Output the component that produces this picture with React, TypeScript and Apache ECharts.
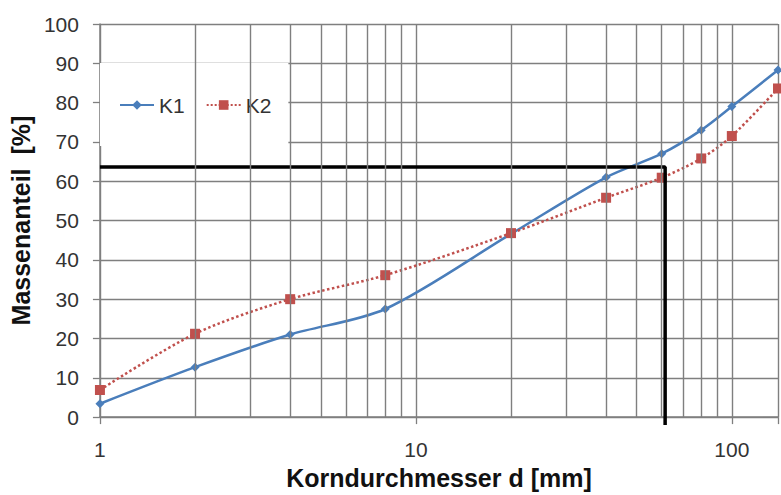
import React, { useEffect, useRef } from "react";
import * as echarts from "echarts";

const diameters = [1, 2, 4, 8, 20, 40, 60, 80, 100, 140];
const k1Values = [3.4, 12.7, 21, 27.5, 46.6, 61, 67, 73, 79, 88.3];
const k2Values = [6.9, 21.2, 30, 36.1, 46.8, 55.8, 60.9, 65.8, 71.5, 83.6];
const minorGrid = [2, 3, 4, 5, 6, 7, 8, 9, 20, 30, 40, 50, 60, 70, 80, 90];
const readD = 61.5;
const readPct = 63.6;
const seriesNames = ["K1", "K2"];

const FONT = "'Liberation Sans', Arial, sans-serif";
const GRID = "#7f7f7f";

export default function App() {
  const ref = useRef<HTMLDivElement>(null);
  useEffect(() => {
    if (!ref.current) return;
    const chart = echarts.init(ref.current, null, { renderer: "svg" });
    const k1 = diameters.map((d, i) => [d, k1Values[i]]);
    const k2 = diameters.map((d, i) => [d, k2Values[i]]);
    chart.setOption({
      animation: false,
      textStyle: { fontFamily: FONT },
      grid: { left: 98, right: 0, top: 24, bottom: 74, containLabel: false },
      legend: {
        data: seriesNames,
        left: 100,
        top: 63,
        backgroundColor: "#fff",
        padding: [31, 17, 30, 19],
        itemWidth: 34,
        itemHeight: 12,
        itemGap: 21,
        textStyle: { fontFamily: FONT, fontSize: 21, color: "#333", lineHeight: 22 },
      },
      xAxis: {
        type: "log",
        logBase: 10,
        min: 1,
        max: 140,
        name: "Korndurchmesser d [mm]",
        nameLocation: "middle",
        nameGap: 46,
        nameTextStyle: { fontFamily: FONT, fontSize: 25, fontWeight: "bold", color: "#111" },
        axisLine: { show: true, lineStyle: { color: GRID, width: 1.5 } },
        axisTick: { show: true, length: 7, lineStyle: { color: GRID, width: 1.3 } },
        axisLabel: {
          fontFamily: FONT,
          fontSize: 21,
          color: "#333",
          margin: 22,
          formatter: (v: number) => {
            const l = Math.log10(v);
            return Math.abs(l - Math.round(l)) < 1e-6 ? String(Math.round(v)) : "";
          },
        },
        splitLine: { show: true, lineStyle: { color: GRID, width: 1.4 } },
      },
      yAxis: {
        type: "value",
        min: 0,
        max: 100,
        interval: 10,
        name: "Massenanteil  [%]",
        nameLocation: "middle",
        nameGap: 58,
        nameTextStyle: { fontFamily: FONT, fontSize: 25, fontWeight: "bold", color: "#111" },
        axisLine: { show: true, lineStyle: { color: GRID, width: 1.5 } },
        axisTick: { show: true, length: 7, lineStyle: { color: GRID, width: 1.3 } },
        axisLabel: { fontFamily: FONT, fontSize: 21, color: "#333", margin: 21 },
        splitLine: { show: true, lineStyle: { color: GRID, width: 1.4 } },
      },
      series: [
        {
          name: "grid",
          type: "line",
          data: [],
          z: 1,
          silent: true,
          markLine: {
            silent: true,
            symbol: "none",
            label: { show: false },
            lineStyle: { color: GRID, width: 1.4, type: "solid" },
            data: minorGrid.map((v) => ({ xAxis: v })),
          },
        },
        {
          name: "K1",
          type: "line",
          data: k1,
          smooth: 0.3,
          symbol: "diamond",
          symbolSize: 9,
          color: "#4a7ebb",
          lineStyle: { color: "#4a7ebb", width: 2.5 },
          itemStyle: { color: "#4a7ebb" },
          z: 3,
        },
        {
          name: "K2",
          type: "line",
          data: k2,
          smooth: 0.3,
          symbol: "rect",
          symbolSize: 10,
          color: "#c0504d",
          lineStyle: { color: "#c0504d", width: 2.5, type: "dotted" },
          itemStyle: { color: "#c0504d" },
          z: 3,
        },
        {
          name: "read",
          type: "line",
          data: [
            [1, readPct],
            [readD, readPct],
            [readD, -2],
          ],
          symbol: "none",
          clip: false,
          silent: true,
          lineStyle: { color: "#000", width: 3.5 },
          z: 4,
        },
      ],
    });
    return () => chart.dispose();
  }, []);
  return (
    <div
      ref={ref}
      style={{ position: "fixed", left: 0, top: 0, width: 781, height: 495, background: "#fff" }}
    />
  );
}
